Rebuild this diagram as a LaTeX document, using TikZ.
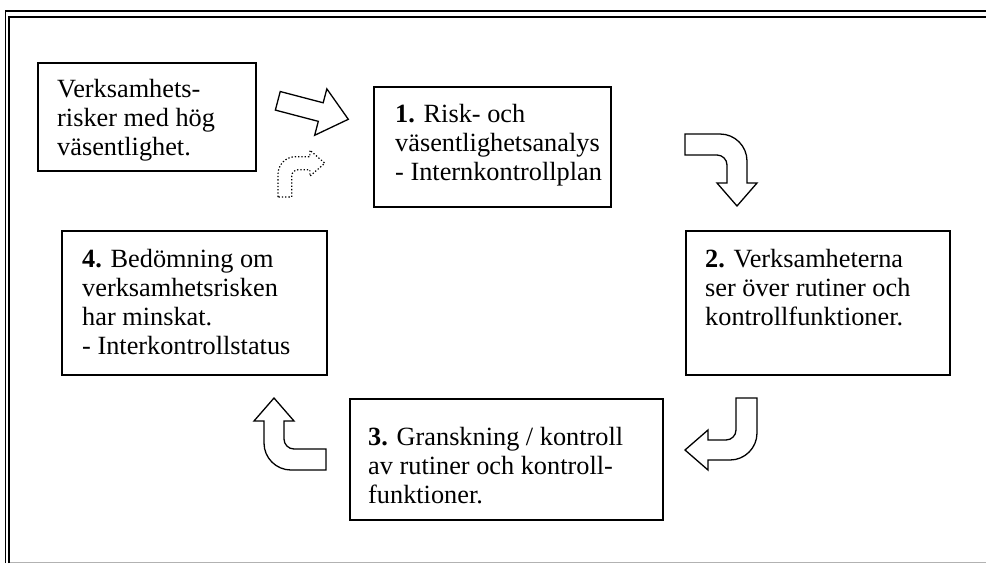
\documentclass[tikz,border=0pt]{standalone}
\usepackage{fontspec}
\setmainfont{Liberation Serif}
\usetikzlibrary{positioning}

\newcommand\turnarrow[1]{%
 \draw[blk,#1] (0,0)--(35,0) .. controls (49.9,0) and (62,12.1) .. (62,27)--(62,49)--(72,49)--(52,72)--(32,49)--(42,49)--(42,31) .. controls (42,25.5) and (37.5,21) .. (32,21)--(0,21)--cycle;}

\begin{document}
\begin{tikzpicture}[x=1pt,y=-1pt,
 box/.style={draw,line width=1.6pt,anchor=north west,inner sep=0pt},
 txt/.style={anchor=north west,inner sep=0pt,align=left,font=\fontsize{26.3}{29}\selectfont},
 blk/.style={draw,line width=1.3pt,fill=white,line join=miter}]
\useasboundingbox (0,0) rectangle (986,563);
% frame
\draw[line width=1.5pt] (5.5,563)--(5.5,11)--(986,11);
\draw[line width=2.5pt] (9,563)--(9,17)--(986,17);
\draw[gray!60,line width=1pt] (10,562)--(986,562);
% boxes
\node[box,minimum width=218pt,minimum height=108pt] (r) at (37,62) {};
\node[box,minimum width=237pt,minimum height=120pt] (s1) at (373,86) {};
\node[box,minimum width=264pt,minimum height=144pt] (s2) at (685,230) {};
\node[box,minimum width=313pt,minimum height=121pt] (s3) at (349,398) {};
\node[box,minimum width=265pt,minimum height=144pt] (s4) at (61,230) {};
\node[txt] (rt) at ([shift={(20,14.7)}]r.north west) {\strut Verksamhets-\\risker med hög\\väsentlighet.};
\node[txt] (s1t) at ([shift={(22,15.7)}]s1.north west) {\strut\textbf{1.} Risk- och\\väsentlighetsanalys\\- Internkontrollplan};
\node[txt] (s2t) at ([shift={(20,16.7)}]s2.north west) {\strut\textbf{2.} Verksamheterna\\ser över rutiner och\\kontrollfunktioner.};
\node[txt] (s3t) at ([shift={(19,26.7)}]s3.north west) {\strut\textbf{3.} Granskning / kontroll\\av rutiner och kontroll-\\funktioner.};
\node[txt] (s4t) at ([shift={(21,16.7)}]s4.north west) {\strut\textbf{4.} Bedömning om\\verksamhetsrisken\\har minskat.\\- Interkontrollstatus};
% arrows
\draw[blk,shift={(277.8,100.8)},rotate=-14.7] (0,-9.6)--(44.4,-9.6)--(44.4,-24)--(72.9,0)--(44.4,24)--(44.4,9.6)--(0,9.6)--cycle;
\turnarrow{shift={(278,197)},rotate=90,scale=0.65,dotted,line width=1.2pt}
\turnarrow{shift={(685,134)}}
\turnarrow{shift={(757,398)},rotate=-90}
\turnarrow{shift={(326,470)},rotate=180}
\end{tikzpicture}
\end{document}
